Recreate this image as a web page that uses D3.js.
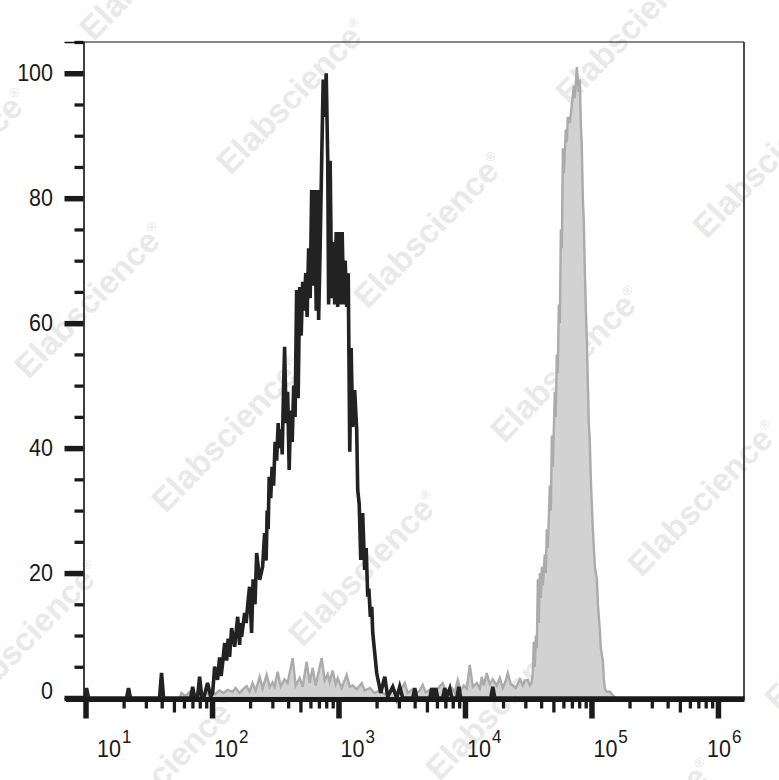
<!DOCTYPE html>
<html>
<head>
<meta charset="utf-8">
<script src="https://cdn.jsdelivr.net/npm/d3@7"></script>
<style>
  html, body { margin: 0; padding: 0; background: #fff; }
  svg { display: block; }
</style>
</head>
<body>
<svg id="chart" width="779" height="780"></svg>
<script>
// ---------------- data (x in log10 decades, y in % of max) ----------------
const blackLog = [0.984,1.000,1.008,1.024,1.324,1.340,1.356,1.585,1.601,1.617,
  1.831,1.847,1.862,1.886,1.902,1.918,1.934,1.965,1.989,
  2.005,2.021,2.044,2.060,2.072,2.084,2.100,2.116,2.128,2.139,2.155,2.179,2.203,2.218,2.226,
  2.234,2.258,2.270,2.285,2.297,2.313,2.325,2.340,2.353,2.377,2.400,
  2.416,2.428,2.436,2.444,2.452,2.464,2.475,2.487,2.499,2.511,2.523,2.535,2.547,2.555,2.566,
  2.574,2.586,2.598,2.610,2.622,2.634,2.646,2.657,2.669,2.681,2.693,2.705,2.717,2.729,2.741,
  2.752,2.764,2.776,2.788,2.800,2.812,2.824,2.835,2.843,2.855,2.867,2.879,2.891,2.903,2.915,
  2.922,2.934,2.946,2.958,2.970,2.982,2.994,3.006,3.017,3.029,3.041,3.053,3.065,3.077,3.089,
  3.100,3.112,3.128,3.144,3.152,3.164,
  3.176,3.191,3.207,3.219,3.231,3.240,3.252,3.263,3.271,3.302,3.334,3.366,3.389,3.429,3.460,
  3.484,3.508,3.587,3.603,3.619,3.722,3.737,3.753,3.769,3.785,3.824,3.840,3.856,3.880,3.896,
  3.935,3.951,3.967,4.204,4.220,4.236,6.206];
const blackPct = [0,0,1.6,0,0,1.6,0,0,4.0,0,
  0,1.8,0.2,0.2,3.4,0.3,0,2.4,0.2,
  0.8,5.0,2.9,6.5,3.5,5.6,8.8,6.0,9.5,6.6,11.2,8.2,13.0,8.5,12.0,
  9.8,13.6,12.0,15.5,17.8,10.4,19.0,15.0,23.2,18.9,21.0,
  26.4,22,30,27,35.4,32,37,34,41,38,44,40,43,39,50,
  56.2,44,49,36.5,46,41,50,45,65.3,48,65.8,58,66.6,62,68,
  61,72,64,81.3,66,81.3,62,81.3,60.5,72.2,86,99,93,100,86,
  63,86,64,73,63,74.6,62.6,74.6,63,74.6,63,70,62.6,68,39.4,
  56,43.4,49.3,42.9,33.3,31,
  22.1,29.6,20.5,24,16.2,17.5,13,14.6,10.4,4.0,0.8,3.4,0.2,1.8,0,
  1.8,0,0,1.6,0,0,1.6,0.2,1.6,0,0,1.6,0.2,1.5,0,
  0,1.8,0,0,1.8,0,0];

const greyLog = [1.744,1.759,1.791,1.823,1.862,1.902,1.941,1.981,2.021,2.060,2.092,2.123,
  2.163,2.187,2.218,2.250,2.274,2.297,2.321,2.345,2.377,2.400,2.432,2.456,2.479,2.495,
  2.519,2.543,2.574,2.598,2.638,2.661,2.693,2.717,2.748,2.772,2.796,2.820,2.867,2.891,
  2.915,2.930,2.954,2.978,2.994,3.025,3.065,3.089,3.112,3.144,3.184,3.207,3.247,3.286,
  3.326,3.366,3.405,3.429,3.460,3.484,3.524,3.547,3.587,3.611,3.642,3.666,3.690,3.722,
  3.753,3.785,3.824,3.848,3.896,3.919,3.943,3.967,3.991,4.014,4.038,4.062,4.093,4.117,
  4.133,4.149,4.172,4.196,4.220,4.252,4.275,4.299,4.323,4.339,4.362,4.378,4.402,4.434,
  4.457,4.473,4.497,4.513,4.528,
  4.536,4.544,4.552,4.560,4.568,4.576,4.584,4.592,4.600,4.608,4.616,4.631,4.639,4.647,
  4.655,4.671,4.679,4.687,4.695,4.710,4.718,4.726,4.734,4.742,4.750,4.758,4.766,4.774,
  4.782,4.797,4.805,4.813,4.829,4.845,4.861,4.869,4.884,4.900,4.908,4.916,4.924,4.932,
  4.940,4.948,4.956,4.964,4.972,4.979,4.987,4.995,5.003,5.011,5.019,5.027,5.043,5.051,
  5.066,5.074,5.090,5.098,5.106,5.122,5.146,5.169,5.193];
const greyPct = [0,0.8,0.3,1.0,0.5,0.8,0.4,1.0,0.6,1.2,0.8,1.3,
  1.0,1.6,0.8,1.5,1.9,1.0,2.4,1.2,3.4,1.5,3.7,1.8,2.5,1.8,
  4.2,1.9,3.0,2.4,6.4,2.0,3.2,1.8,5.8,2.4,4.8,2.0,6.4,2.8,
  3.8,2.6,4.4,2.2,3.2,1.6,3.7,1.8,2.0,1.4,2.4,1.2,1.6,0.8,
  1.2,0.6,1.0,1.5,0.6,1.0,2.4,0.8,1.4,0.7,1.2,2.1,0.9,1.3,
  0.8,1.5,2.4,1.0,1.6,0.9,2.9,1.2,2.0,1.5,5.3,1.8,2.4,1.5,
  3.4,2.0,4.0,2.2,3.0,2.0,3.2,1.6,2.8,4.0,2.2,2.0,1.6,3.0,
  2.0,2.8,2.9,2.0,2.5,
  4.0,9,5,10,8,19,12,20,16,21,18,23,20,27,
  24,34,30,42,37,49,45,55,52,63,60,75,72,88,
  84,91,89,93,92,95,98,96,101,97,99,92,88,80,
  76,68,62,57,50,44,41,35,31,27,24,21,19,15,
  11,8,6,3,1.5,1.0,1.0,0.4,0];

const yMajor = [0, 20, 40, 60, 80, 100];
const yMinor = [5,10,15,25,30,35,45,50,55,65,70,75,85,90,95,105];
const xDecades = [1, 2, 3, 4, 5, 6];
const watermarkText = "Elabscience";

// ---------------- layout ----------------
const L = 83.5, R = 744, T = 42, B = 698;
const svg = d3.select("#chart");
const FONT = "'Liberation Sans', Arial, Helvetica, sans-serif";

const xs = d3.scaleLog().domain([Math.pow(10, 0.984), Math.pow(10, 6.206)]).range([L, R]);
const ys = d3.scaleLinear().domain([0, 105]).range([B, T]);

// ---------------- watermark ----------------
const wm = svg.append("g");
const a0 = [292, 96], u = [137, 134], v = [-202, 204];
for (let i = -3; i <= 6; i++) {
  for (let j = -3; j <= 4; j++) {
    const cx = a0[0] + i * u[0] + j * v[0];
    const cy = a0[1] + i * u[1] + j * v[1];
    if (cx < -120 || cx > 900 || cy < -120 || cy > 900) continue;
    const t = wm.append("text")
      .attr("transform", `translate(${cx},${cy}) rotate(-45.8)`)
      .attr("text-anchor", "middle")
      .attr("dy", "0.35em")
      .attr("font-family", FONT)
      .attr("font-weight", "bold")
      .attr("font-size", 33)
      .attr("fill", "#e9e9e9");
    t.append("tspan").text(watermarkText);
    t.append("tspan").attr("font-size", 13).attr("dy", "-1.1em").text("®");
  }
}

// ---------------- series ----------------
const greyData = greyLog.map((e, k) => ({ x: Math.pow(10, e), y: greyPct[k] }));
const blackData = blackLog.map((e, k) => ({ x: Math.pow(10, e), y: blackPct[k] }));

svg.append("path")
  .datum(greyData)
  .attr("d", d3.area().x(d => xs(d.x)).y0(ys(0)).y1(d => ys(d.y)))
  .attr("fill", "#d2d2d2")
  .attr("stroke", "#ababab")
  .attr("stroke-width", 2.4)
  .attr("stroke-linejoin", "miter");

svg.append("path")
  .datum(blackData)
  .attr("d", d3.line().x(d => xs(d.x)).y(d => ys(d.y)))
  .attr("fill", "none")
  .attr("stroke", "#222222")
  .attr("stroke-width", 3.6)
  .attr("stroke-linejoin", "miter");

// ---------------- frame ----------------
svg.append("line").attr("x1", L).attr("x2", R).attr("y1", T).attr("y2", T)
  .attr("stroke", "#111").attr("stroke-width", 1.2);
svg.append("line").attr("x1", R).attr("x2", R).attr("y1", T).attr("y2", B + 2)
  .attr("stroke", "#111").attr("stroke-width", 1.5);

// ---------------- y axis ----------------
const yAxisG = svg.append("g").attr("transform", `translate(${L},0)`);
const yMinorG = yAxisG.append("g")
  .call(d3.axisLeft(ys).tickValues(yMinor).tickSize(9).tickFormat(""));
yMinorG.selectAll(".tick line").attr("stroke", "#1a1a1a").attr("stroke-width", 3.3);
yMinorG.select(".domain").remove();

const yMajorG = yAxisG.append("g")
  .call(d3.axisLeft(ys).tickValues(yMajor).tickSize(19).tickPadding(11.5).tickFormat(d3.format("d")));
yMajorG.select(".domain").attr("stroke", "#111").attr("stroke-width", 1.6);
yMajorG.selectAll(".tick line").attr("stroke", "#1a1a1a").attr("stroke-width", 5.5);
yMajorG.selectAll(".tick text")
  .attr("font-family", FONT)
  .attr("font-size", 21.5)
  .attr("fill", "#1a1a1a")
  .attr("transform", d => d === 0 ? "translate(0,-7) scale(1,1.1)" : "scale(1,1.1)");
yMajorG.attr("font-family", null).attr("font-size", null);

// ---------------- x axis ----------------
const xAxisG = svg.append("g").attr("transform", `translate(0,${B + 1.5})`);
const minors = [], mids = [];
for (let n = 1; n <= 5; n++) {
  for (let k = 2; k <= 9; k++) {
    (k === 5 ? mids : minors).push(k * Math.pow(10, n));
  }
}
const xMinorG = xAxisG.append("g")
  .call(d3.axisBottom(xs).tickValues(minors).tickSize(9).tickFormat(""));
xMinorG.selectAll(".tick line").attr("stroke", "#1a1a1a").attr("stroke-width", 3.3);
xMinorG.select(".domain").remove();
const xMidG = xAxisG.append("g")
  .call(d3.axisBottom(xs).tickValues(mids).tickSize(13).tickFormat(""));
xMidG.selectAll(".tick line").attr("stroke", "#1a1a1a").attr("stroke-width", 3.3);
xMidG.select(".domain").remove();
const xMajorG = xAxisG.append("g")
  .call(d3.axisBottom(xs).tickValues(xDecades.map(n => Math.pow(10, n))).tickSize(19).tickFormat(""));
xMajorG.selectAll(".tick line").attr("stroke", "#1a1a1a").attr("stroke-width", 5.5);
xMajorG.select(".domain").remove();

// thick baseline
svg.append("line")
  .attr("x1", L - 17.5).attr("x2", R + 0.5)
  .attr("y1", B + 1.5).attr("y2", B + 1.5)
  .attr("stroke", "#1a1a1a").attr("stroke-width", 5);

// decade labels 10^n
const xLab = svg.append("g");
xDecades.forEach(n => {
  const tx = Math.max(L + 13.5, Math.min(R - 37, xs(Math.pow(10, n)) + 2));
  const g = xLab.append("g").attr("transform", `translate(${tx},757) scale(1,1.1)`);
  const t = g.append("text")
    .attr("font-family", FONT)
    .attr("fill", "#1a1a1a");
  t.append("tspan").attr("font-size", 21.5).text("10");
  t.append("tspan").attr("font-size", 17).attr("dx", 1).attr("dy", -13).text(String(n));
});
</script>
</body>
</html>
